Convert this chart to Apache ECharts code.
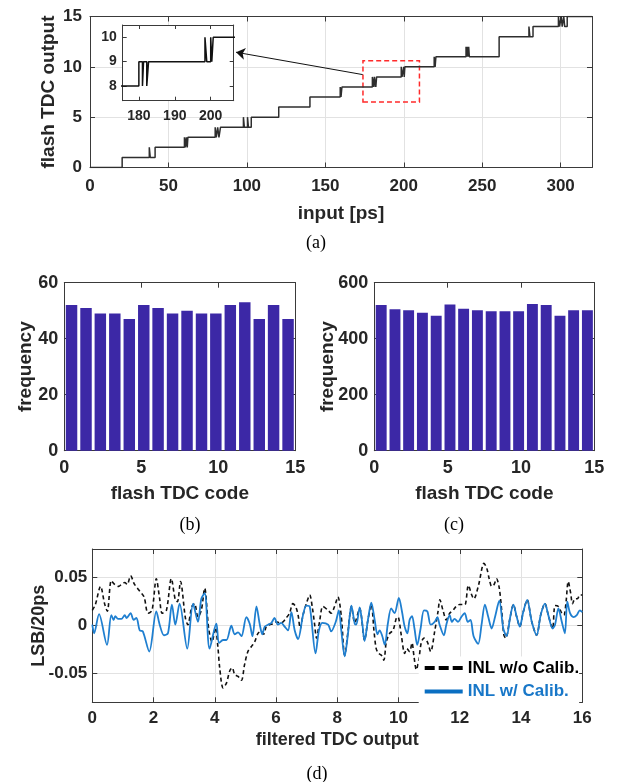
<!DOCTYPE html>
<html><head><meta charset="utf-8">
<script src="https://cdn.jsdelivr.net/npm/echarts@6/dist/echarts.min.js"></script>
<style>html,body{margin:0;padding:0;background:#fff}#c{width:624px;height:782px}</style>
</head><body><div id="c"></div>
<script>
// ---------- DATA ----------
// (a) flash TDC output vs input: breakpoints (input ps, code held from that input on)
const stepInput = [0,20.5,37.8,38.4,41.5,60.2,60.8,61.4,62,62.4,79.8,80.5,81.4,82.2,83.2,97.8,98.4,100.4,101,102.8,120.3,140.2,159.5,160,160.6,180,181,181.3,182.2,182.7,198.4,198.9,200,200.3,200.7,219.4,220,220.5,239.7,240.2,240.6,241,241.4,241.8,260.8,279.8,280.4,282.4,298.6,299.3,300.4,301,302,302.6,304.2,320];
const stepCode  = [0,1,2,1,2,3,2,3,2,3,4,3,4,3,4,5,4,5,4,5,6,7,8,7,8,9,8,9,8,9,10,9,10,9,10,11,10,11,12,11,12,11,12,11,13,14,13,14,15,14,15,14,15,14,15,15];
const mainXTicks = [0, 50, 100, 150, 200, 250, 300];
const insetXTicks = [180, 190, 200];
const insetYTicks = [8, 9, 10];
const zoomBox = [174, 210, 6.5, 10.6];          // x0, x1, y0, y1 (data units)
const arrowFrom = [173.8, 9.23];
const arrowTo = [93.1, 11.45];

// (b), (c) histograms
const binCenters = [0.47, 1.41, 2.34, 3.28, 4.22, 5.16, 6.09, 7.03, 7.97, 8.91, 9.84, 10.78, 11.72, 12.66, 13.59, 14.53];
const freqB = [52, 51, 49, 49, 47, 52, 51, 49, 50, 49, 49, 52, 53, 47, 52, 47];
const freqC = [520, 505, 502, 493, 482, 522, 507, 502, 498, 498, 498, 524, 520, 482, 502, 502];

// (d) INL
const inlRawX = [0.00,0.10,0.27,0.40,0.49,0.62,0.73,0.86,0.95,1.06,1.14,1.25,1.38,1.55,1.69,1.82,1.95,2.09,2.20,2.28,2.42,2.58,2.71,2.78,2.88,3.04,3.12,3.25,3.34,3.45,3.56,3.67,3.80,3.91,4.02,4.10,4.16,4.27,4.38,4.49,4.57,4.65,4.76,4.87,4.97,5.08,5.19,5.30,5.41,5.52,5.60,5.68,5.79,5.90,6.01,6.12,6.23,6.33,6.44,6.55,6.64,6.72,6.79,6.88,6.99,7.10,7.18,7.26,7.32,7.42,7.53,7.70,7.80,7.91,8.02,8.13,8.24,8.35,8.46,8.57,8.73,8.89,9.00,9.11,9.20,9.27,9.35,9.44,9.52,9.60,9.71,9.82,9.93,9.98,10.09,10.20,10.27,10.36,10.44,10.50,10.58,10.66,10.74,10.83,10.94,11.05,11.18,11.29,11.35,11.45,11.56,11.67,11.78,11.88,11.99,12.09,12.17,12.28,12.39,12.46,12.61,12.79,12.88,12.96,13.04,13.12,13.20,13.29,13.37,13.44,13.50,13.64,13.75,13.86,13.96,14.07,14.20,14.35,14.51,14.64,14.78,14.89,15.03,15.11,15.22,15.33,15.40,15.47,15.54,15.62,15.68,15.76,15.84,15.92,16.00];
const inlRawY = [0.016,0.022,0.041,0.023,0.015,0.047,0.043,0.041,0.043,0.045,0.043,0.052,0.043,0.036,0.030,0.013,0.016,0.049,0.028,0.013,0.016,0.049,0.027,0.025,0.046,0.008,0.001,0.020,0.023,0.009,0.016,0.039,-0.003,-0.017,-0.002,-0.022,-0.044,-0.065,-0.060,-0.047,-0.044,-0.051,-0.053,-0.057,-0.041,-0.027,-0.022,-0.017,-0.008,-0.006,-0.009,-0.001,0.001,0.002,0.004,0.003,0.004,0.008,0.013,0.023,0.020,0.011,-0.003,0.011,0.023,0.032,0.020,0.001,-0.013,0.004,0.020,0.016,0.013,0.020,0.030,0.010,-0.031,-0.006,0.020,0.003,0.018,-0.015,0.006,0.022,-0.006,-0.024,-0.029,-0.031,-0.036,-0.017,-0.008,-0.005,0.008,0.009,-0.010,-0.029,-0.024,-0.027,-0.018,-0.031,-0.046,-0.036,-0.018,-0.013,-0.017,-0.027,-0.006,0.015,0.027,0.016,0.006,0.013,0.016,0.020,0.022,0.022,0.022,0.042,0.032,0.028,0.042,0.065,0.060,0.049,0.041,0.043,0.049,0.039,0.015,-0.010,-0.013,0.008,0.022,0.009,-0.001,0.014,0.027,0.004,-0.010,0.011,0.023,0.011,-0.003,0.021,0.020,0.013,0.011,0.025,0.046,0.034,0.023,0.028,0.028,0.032,0.032];
const inlCalX = [0.00,0.06,0.22,0.48,0.62,0.70,0.75,0.84,0.95,1.06,1.12,1.25,1.35,1.44,1.55,1.65,1.86,2.09,2.20,2.34,2.47,2.60,2.71,2.85,3.10,3.29,3.45,3.56,3.67,3.83,4.05,4.14,4.27,4.38,4.54,4.65,4.76,4.87,5.03,5.14,5.23,5.36,5.47,5.55,5.63,5.74,5.85,5.95,6.06,6.17,6.28,6.39,6.50,6.61,6.72,6.88,6.99,7.10,7.29,7.40,7.51,7.70,7.80,7.95,8.05,8.13,8.24,8.35,8.46,8.57,8.62,8.73,8.81,8.89,9.00,9.11,9.22,9.31,9.38,9.46,9.55,9.65,9.76,9.87,10.01,10.11,10.20,10.29,10.36,10.44,10.52,10.61,10.72,10.83,10.94,11.05,11.18,11.27,11.34,11.48,11.56,11.67,11.74,11.83,11.94,12.05,12.16,12.26,12.35,12.45,12.60,12.71,12.82,12.93,13.04,13.15,13.29,13.42,13.53,13.64,13.75,13.86,13.96,14.07,14.20,14.35,14.51,14.64,14.78,14.89,15.03,15.11,15.22,15.33,15.43,15.51,15.60,15.71,15.82,15.92,16.00];
const inlCalY = [0.001,-0.008,0.012,-0.020,0.011,0.006,0.010,0.007,0.007,0.011,0.008,0.013,0.006,0.008,-0.005,-0.006,-0.027,0.015,0.001,-0.010,-0.008,0.022,0.001,0.023,-0.024,0.023,0.004,0.028,0.034,-0.024,0.002,-0.018,-0.015,-0.015,0.000,-0.009,-0.007,-0.011,0.009,0.002,-0.011,0.020,0.001,-0.009,-0.001,0.001,0.003,0.008,0.001,0.003,-0.001,-0.005,0.014,-0.005,-0.014,0.011,0.021,0.020,-0.029,-0.005,0.003,0.001,-0.006,0.004,0.016,-0.005,-0.032,-0.008,0.021,0.002,0.001,0.019,0.004,-0.016,0.006,0.024,0.006,-0.009,-0.005,-0.010,-0.020,0.002,0.018,0.013,0.029,0.015,-0.001,-0.008,0.006,0.010,-0.003,-0.020,-0.003,0.016,0.015,0.001,0.004,0.009,0.001,-0.010,0.001,0.011,0.004,0.007,0.004,0.009,0.013,0.004,0.006,-0.011,-0.019,0.001,0.022,0.009,-0.003,0.009,0.026,-0.003,-0.011,0.008,0.022,0.009,-0.001,0.014,0.027,0.004,-0.010,0.011,0.023,0.011,-0.003,0.001,0.018,0.004,-0.008,0.025,0.013,0.009,0.011,0.016,0.014];
const inlYTicks = [-0.05, 0, 0.05];

// ---------- STYLE ----------
const FONT = "'Liberation Sans', Arial, Helvetica, sans-serif";
const INK = '#262626';
const FRAME = '#3a3a3a';
const GRIDC = '#e2e2e2';

function mkAxis(gi, pos, o) {
  const labels = (pos === 'bottom' || pos === 'left');
  const ax = {
    type: 'value', gridIndex: gi, position: pos, min: o.min, max: o.max, z: o.z || 0,
    axisLine: { show: true, onZero: false, lineStyle: { color: FRAME, width: 1 } },
    axisTick: { show: true, inside: true, length: o.tickLen || 5, lineStyle: { color: FRAME, width: 1 } },
    axisLabel: { show: labels, color: INK, fontFamily: FONT, fontWeight: 'bold', fontSize: o.fs, margin: o.margin || 6 },
    splitLine: { show: labels && !!o.grid, lineStyle: { color: GRIDC, width: 1 } }
  };
  if (o.interval != null) ax.interval = o.interval;
  if (o.custom) { ax.axisTick.customValues = o.custom; ax.axisLabel.customValues = o.custom; }
  if (o.hideMax) ax.axisLabel.showMaxLabel = false;
  if (labels && o.name) {
    ax.name = o.name; ax.nameLocation = 'middle'; ax.nameGap = o.nameGap; ax.nameMoveOverlap = false;
    ax.nameTextStyle = { color: INK, fontFamily: FONT, fontWeight: 'bold', fontSize: o.nfs };
  }
  return ax;
}

const grids = [
  { left: 90, top: 16.5, width: 502, height: 151 },
  { left: 122.7, top: 25, width: 111, height: 75.7, show: true, backgroundColor: '#fff', borderWidth: 0, z: 3 },
  { left: 64.3, top: 282.7, width: 231, height: 168 },
  { left: 374.3, top: 282.7, width: 220, height: 168 },
  { left: 92.3, top: 549, width: 490, height: 153.3 }
];

const xAxes = [], yAxes = [];
function addPair(arr, gi, posA, posB, o) { arr.push(mkAxis(gi, posA, o)); const i = arr.length - 1; arr.push(mkAxis(gi, posB, o)); return i; }

// grid 0 main
const xa = addPair(xAxes, 0, 'bottom', 'top', { min: 0, max: 320, interval: 50, hideMax: true, grid: true, fs: 17, margin: 10, name: 'input [ps]', nameGap: 37, nfs: 19 });
const ya = addPair(yAxes, 0, 'left', 'right', { min: 0, max: 15, interval: 5, grid: true, fs: 17, margin: 8, name: 'flash TDC output', nameGap: 32, nfs: 19 });
// grid 1 inset
const xi = addPair(xAxes, 1, 'bottom', 'top', { min: 175.5, max: 206.4, custom: insetXTicks, fs: 14, margin: 8, z: 4, tickLen: 4 });
const yi = addPair(yAxes, 1, 'left', 'right', { min: 7.4, max: 10.5, custom: insetYTicks, fs: 14, margin: 6, z: 4, tickLen: 4 });
// grid 2 (b)
const xb = addPair(xAxes, 2, 'bottom', 'top', { min: 0, max: 15, interval: 5, fs: 18, margin: 8, name: 'flash TDC code', nameGap: 34, nfs: 19 });
const yb = addPair(yAxes, 2, 'left', 'right', { min: 0, max: 60, interval: 20, fs: 18, margin: 6, name: 'frequency', nameGap: 29, nfs: 19 });
// grid 3 (c)
const xc = addPair(xAxes, 3, 'bottom', 'top', { min: 0, max: 15, interval: 5, fs: 18, margin: 8, name: 'flash TDC code', nameGap: 34, nfs: 19 });
const yc = addPair(yAxes, 3, 'left', 'right', { min: 0, max: 600, interval: 200, fs: 18, margin: 6, name: 'frequency', nameGap: 37, nfs: 19 });
// grid 4 (d)
const xd = addPair(xAxes, 4, 'bottom', 'top', { min: 0, max: 16, interval: 2, grid: true, fs: 17, margin: 8, name: 'filtered TDC output', nameGap: 29, nfs: 18 });
const yd = addPair(yAxes, 4, 'left', 'right', { min: -0.08, max: 0.08, custom: inlYTicks, grid: true, fs: 17, margin: 5, name: 'LSB/20ps', nameGap: 44, nfs: 18 });

const stepData = stepInput.map((x, i) => [x, stepCode[i]]);
const BAR = '#3C28A6';
const BLUE = '#1F7FD0';

const series = [
  {
    type: 'line', xAxisIndex: xa, yAxisIndex: ya, step: 'end', data: stepData, showSymbol: false, symbol: 'none',
    lineStyle: { color: '#2e2e2e', width: 1.5 }, animation: false, silent: true,
    markArea: { silent: true, itemStyle: { color: 'rgba(0,0,0,0)', borderColor: '#ff2a2a', borderWidth: 1.5, borderType: [5, 3] },
      data: [[{ coord: [zoomBox[0], zoomBox[2]] }, { coord: [zoomBox[1], zoomBox[3]] }]] },
    markLine: { silent: true, symbol: ['none', 'arrow'], symbolSize: 9, label: { show: false },
      lineStyle: { color: '#111', width: 1, type: 'solid' },
      data: [[{ coord: arrowFrom }, { coord: arrowTo }]] }
  },
  {
    type: 'line', xAxisIndex: xi, yAxisIndex: yi, step: 'end', data: stepData, showSymbol: false, symbol: 'none', z: 5,
    lineStyle: { color: '#111', width: 1.5 }, animation: false, silent: true, clip: true
  },
  {
    type: 'bar', xAxisIndex: xb, yAxisIndex: yb, data: binCenters.map((c, i) => [c, freqB[i]]), barWidth: '80%',
    itemStyle: { color: BAR }, animation: false, silent: true
  },
  {
    type: 'bar', xAxisIndex: xc, yAxisIndex: yc, data: binCenters.map((c, i) => [c, freqC[i]]), barWidth: '80%',
    itemStyle: { color: BAR }, animation: false, silent: true
  },
  {
    name: 'INL w/o Calib.', type: 'line', xAxisIndex: xd, yAxisIndex: yd, data: inlRawX.map((x, i) => [x, inlRawY[i]]),
    smooth: 0.3, showSymbol: false, symbol: 'none', lineStyle: { color: '#111', width: 1.6, type: [4, 3] }, itemStyle: { color: '#111' }, animation: false
  },
  {
    name: 'INL w/ Calib.', type: 'line', xAxisIndex: xd, yAxisIndex: yd, data: inlCalX.map((x, i) => [x, inlCalY[i]]),
    smooth: 0.3, showSymbol: false, symbol: 'none', lineStyle: { color: BLUE, width: 1.8 }, itemStyle: { color: BLUE }, animation: false
  }
];

function caption(t, x, y) {
  return { type: 'text', x: x, y: y, style: { text: t, font: "18px 'Liberation Serif', 'Times New Roman', serif", fill: '#000', align: 'center', verticalAlign: 'middle' } };
}

const chart = echarts.init(document.getElementById('c'), null, { renderer: 'canvas' });
chart.setOption({
  backgroundColor: '#fff',
  animation: false,
  grid: grids,
  xAxis: xAxes,
  yAxis: yAxes,
  series: series,
  legend: {
    show: true, orient: 'vertical', left: 418.7, top: 656.5, itemWidth: 38, itemHeight: 17, itemGap: 6.5,
    padding: [3, 0, 3, 4], backgroundColor: '#fff', selectedMode: false,
    textStyle: { fontFamily: FONT, fontWeight: 'bold', fontSize: 17, color: '#000' },
    itemStyle: { opacity: 0, borderWidth: 0 },
    lineStyle: { width: 4 },
    data: [
      { name: 'INL w/o Calib.', textStyle: { color: '#000' }, lineStyle: { width: 4, type: [10, 4], color: '#000' }, itemStyle: { opacity: 0 } },
      { name: 'INL w/ Calib.', textStyle: { color: '#1877C8' }, lineStyle: { width: 4, color: '#0A6FC2' }, itemStyle: { opacity: 0 } }
    ]
  },
  graphic: [caption('(a)', 316, 243), caption('(b)', 190, 525), caption('(c)', 454, 525), caption('(d)', 317, 774)]
});
</script></body></html>
